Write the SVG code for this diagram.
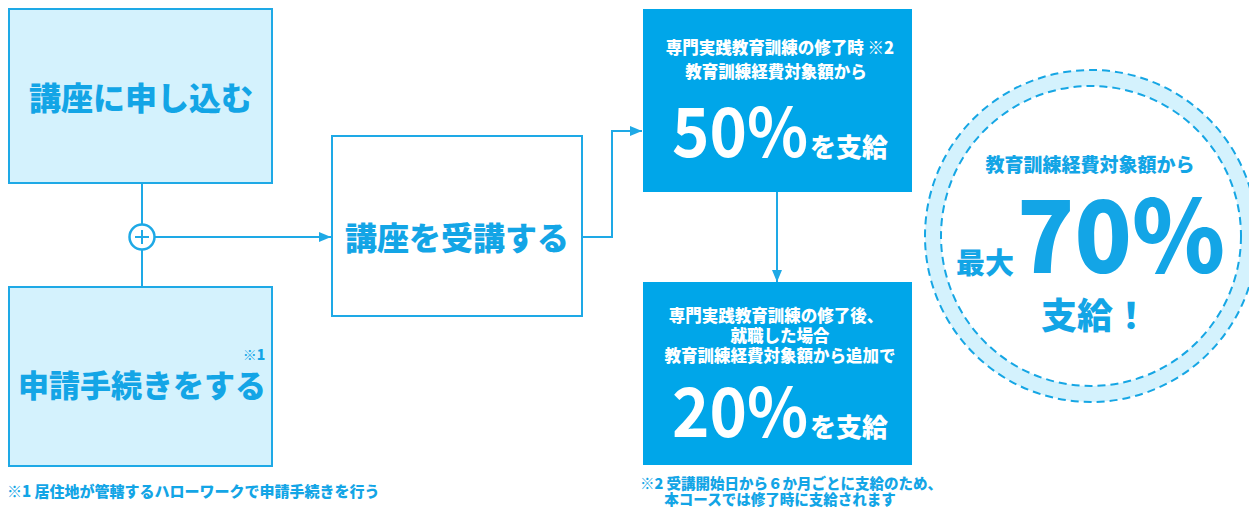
<svg xmlns="http://www.w3.org/2000/svg" width="1249" height="508" viewBox="0 0 1249 508">
<defs>
<style>
.t{font-family:"Noto Sans CJK JP","Noto Sans",sans-serif;font-weight:900}
.blue{fill:#13a5e6}
.white{fill:#ffffff}
.lbox{fill:#d4f2fd;stroke:#1ea9e6;stroke-width:2}
.wbox{fill:#ffffff;stroke:#1ea9e6;stroke-width:2}
.sbox{fill:#00a6e9}
.conn{fill:none;stroke:#1ea9e6;stroke-width:2}
.dash{fill:none;stroke:#16a6e4;stroke-width:2;stroke-dasharray:8 5}
</style>
<marker id="arr" viewBox="0 0 12 10" refX="12" refY="5" markerWidth="12" markerHeight="10" markerUnits="userSpaceOnUse" orient="auto">
<path d="M0,0 L12,5 L0,10 Z" fill="#1ea9e6"/>
</marker>
</defs>
<rect width="1249" height="508" fill="#ffffff"/>

<g id="connectors">
<line class="conn" x1="142" y1="183" x2="142" y2="224"/>
<line class="conn" x1="142" y1="250" x2="142" y2="287"/>
<line class="conn" x1="155" y1="237" x2="331" y2="237" marker-end="url(#arr)"/>
<polyline class="conn" points="582,237 612,237 612,131 642,131" marker-end="url(#arr)"/>
<line class="conn" x1="777" y1="192" x2="777" y2="282" marker-end="url(#arr)"/>
</g>

<g id="node-apply">
<rect class="lbox" x="9" y="9" width="263" height="174"/>
<text class="t blue" x="141" y="110" font-size="32" text-anchor="middle">講座に申し込む</text>
</g>

<g id="node-plus">
<circle cx="142" cy="237" r="12.5" fill="#ffffff" stroke="#1ea9e6" stroke-width="2.5"/>
<path d="M142,230 V244 M135,237 H149" stroke="#1ea9e6" stroke-width="2" fill="none"/>
</g>

<g id="node-procedure">
<rect class="lbox" x="9" y="287" width="263" height="179"/>
<text class="t blue" x="254" y="360" font-size="14" text-anchor="middle">※1</text>
<text class="t blue" x="142" y="397" font-size="31" text-anchor="middle">申請手続きをする</text>
</g>

<text class="t blue" x="7" y="497" font-size="15">※1 居住地が管轄するハローワークで申請手続きを行う</text>

<g id="node-attend">
<rect class="wbox" x="332" y="136" width="250" height="180"/>
<text class="t blue" x="457" y="250" font-size="32" text-anchor="middle">講座を受講する</text>
</g>

<g id="node-50">
<rect class="sbox" x="643" y="9" width="269" height="183"/>
<text class="t white" x="780" y="54" font-size="16.5" text-anchor="middle">専門実践教育訓練の修了時 ※2</text>
<text class="t white" x="776" y="78" font-size="16.5" text-anchor="middle">教育訓練経費対象額から</text>
<text class="t white" x="672" y="157" font-size="68" font-weight="700" style="font-weight:700" textLength="136" lengthAdjust="spacingAndGlyphs">50%</text>
<text class="t white" x="810" y="157" font-size="26">を支給</text>
</g>

<g id="node-20">
<rect class="sbox" x="643" y="282" width="269" height="183"/>
<text class="t white" x="776" y="322" font-size="16.5" text-anchor="middle">専門実践教育訓練の修了後、</text>
<text class="t white" x="780" y="342" font-size="16.5" text-anchor="middle">就職した場合</text>
<text class="t white" x="780" y="362" font-size="16.5" text-anchor="middle">教育訓練経費対象額から追加で</text>
<text class="t white" x="672" y="437" font-size="68" font-weight="700" style="font-weight:700" textLength="136" lengthAdjust="spacingAndGlyphs">20%</text>
<text class="t white" x="810" y="437" font-size="26">を支給</text>
</g>

<text class="t blue" x="791" y="489" font-size="14.5" text-anchor="middle">※2 受講開始日から６か月ごとに支給のため、</text>
<text class="t blue" x="780" y="505" font-size="14.5" text-anchor="middle">本コースでは修了時に支給されます</text>

<g id="node-max70">
<circle cx="1091" cy="236" r="158" fill="none" stroke="#d4f2fd" stroke-width="16"/>
<circle class="dash" cx="1091" cy="236" r="166"/>
<circle class="dash" cx="1091" cy="236" r="150"/>
<text class="t blue" x="1090" y="172" font-size="19" text-anchor="middle">教育訓練経費対象額から</text>
<text class="t blue" x="956" y="274" font-size="29">最大</text>
<text class="t blue" x="1017" y="273" font-size="100" textLength="208" lengthAdjust="spacingAndGlyphs">70%</text>
<text class="t blue" x="1095" y="329" font-size="36" text-anchor="middle">支給！</text>
</g>
</svg>
